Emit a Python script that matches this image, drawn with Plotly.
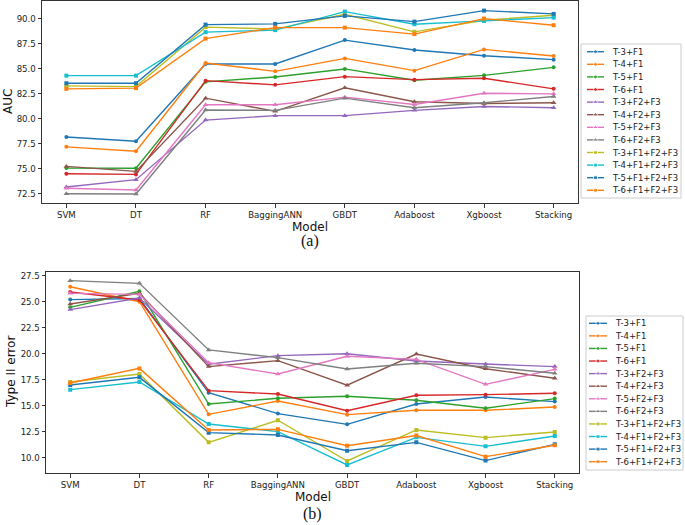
import plotly.graph_objects as go

models = ["SVM", "DT", "RF", "BaggingANN", "GBDT", "Adaboost", "Xgboost", "Stacking"]
series_names = ["T-3+F1", "T-4+F1", "T-5+F1", "T-6+F1",
                "T-3+F2+F3", "T-4+F2+F3", "T-5+F2+F3", "T-6+F2+F3",
                "T-3+F1+F2+F3", "T-4+F1+F2+F3", "T-5+F1+F2+F3", "T-6+F1+F2+F3"]

auc_t3_f1 = [78.17, 77.74, 85.47, 85.47, 87.85, 86.86, 86.29, 85.90]
auc_t4_f1 = [77.18, 76.75, 85.56, 84.73, 86.02, 84.80, 86.92, 86.26]
auc_t5_f1 = [75.06, 75.04, 83.68, 84.17, 84.97, 83.84, 84.33, 85.13]
auc_t6_f1 = [74.50, 74.43, 83.80, 83.38, 84.20, 83.90, 84.04, 82.98]
auc_t3_f23 = [73.17, 73.90, 79.86, 80.30, 80.30, 80.83, 81.22, 81.09]
auc_t4_f23 = [75.23, 74.73, 82.05, 80.73, 83.08, 81.69, 81.52, 81.59]
auc_t5_f23 = [73.04, 72.87, 81.39, 81.39, 82.15, 81.42, 82.54, 82.48]
auc_t6_f23 = [72.50, 72.47, 80.86, 80.83, 82.05, 81.09, 81.59, 82.22]
auc_t3_f123 = [83.28, 83.20, 89.15, 88.95, 90.44, 88.68, 89.84, 90.34]
auc_t4_f123 = [84.30, 84.30, 88.65, 88.85, 90.70, 89.44, 89.77, 90.10]
auc_t5_f123 = [83.54, 83.54, 89.40, 89.47, 90.27, 89.70, 90.80, 90.47]
auc_t6_f123 = [82.98, 83.05, 88.00, 89.10, 89.10, 88.45, 90.00, 89.34]

err_t3_f1 = [25.20, 25.30, 16.27, 14.26, 13.23, 15.18, 15.86, 15.41]
err_t4_f1 = [26.44, 25.00, 14.19, 15.47, 14.16, 14.58, 14.58, 14.90]
err_t5_f1 = [24.46, 26.00, 15.18, 15.73, 15.92, 15.54, 14.77, 15.70]
err_t6_f1 = [25.93, 25.17, 16.46, 16.14, 14.54, 16.02, 16.08, 16.21]
err_t3_f23 = [24.24, 25.35, 19.00, 19.82, 20.00, 19.31, 19.02, 18.77]
err_t4_f23 = [24.78, 25.80, 18.77, 19.34, 16.98, 19.98, 18.57, 17.65]
err_t5_f23 = [25.80, 25.70, 19.15, 18.06, 19.76, 19.47, 17.07, 18.51]
err_t6_f23 = [27.02, 26.76, 20.37, 19.63, 18.54, 19.09, 18.77, 18.13]
err_t3_f123 = [17.30, 18.06, 11.50, 13.62, 9.71, 12.69, 11.95, 12.50]
err_t4_f123 = [16.56, 17.30, 13.26, 12.53, 9.33, 11.98, 11.12, 12.11]
err_t5_f123 = [17.00, 17.74, 12.43, 12.21, 10.70, 11.50, 9.75, 11.31]
err_t6_f123 = [17.20, 18.60, 12.69, 12.75, 11.18, 12.15, 10.13, 11.22]

auc_series = [auc_t3_f1, auc_t4_f1, auc_t5_f1, auc_t6_f1,
              auc_t3_f23, auc_t4_f23, auc_t5_f23, auc_t6_f23,
              auc_t3_f123, auc_t4_f123, auc_t5_f123, auc_t6_f123]
err_series = [err_t3_f1, err_t4_f1, err_t5_f1, err_t6_f1,
              err_t3_f23, err_t4_f23, err_t5_f23, err_t6_f23,
              err_t3_f123, err_t4_f123, err_t5_f123, err_t6_f123]

auc_ticks = [72.5, 75.0, 77.5, 80.0, 82.5, 85.0, 87.5, 90.0]
err_ticks = [10.0, 12.5, 15.0, 17.5, 20.0, 22.5, 25.0, 27.5]

tab10 = ["#1f77b4", "#ff7f0e", "#2ca02c", "#d62728", "#9467bd",
         "#8c564b", "#e377c2", "#7f7f7f", "#bcbd22", "#17becf"]
symbols = ["circle"] * 4 + ["triangle-up"] * 4 + ["square"] * 4
msizes = [4] * 4 + [5] * 4 + [4] * 4

W, H = 685, 525
FONT = "DejaVu Sans"
AX = "#333333"

fig = go.Figure()

for i, name in enumerate(series_names):
    c = tab10[i % 10]
    fig.add_trace(go.Scatter(x=models, y=auc_series[i], name=name, mode="lines+markers",
                             line=dict(color=c, width=1.4),
                             marker=dict(symbol=symbols[i], size=msizes[i], color=c),
                             xaxis="x", yaxis="y", showlegend=False))
for i, name in enumerate(series_names):
    c = tab10[i % 10]
    fig.add_trace(go.Scatter(x=models, y=err_series[i], name=name, mode="lines+markers",
                             line=dict(color=c, width=1.4),
                             marker=dict(symbol=symbols[i], size=msizes[i], color=c),
                             xaxis="x2", yaxis="y2", showlegend=False))

# compact matplotlib-like legends drawn on an overlay pixel axis
def add_legend(box, x0, x1, xt, y_first, dy):
    bx0, by0, bx1, by1 = box
    fig.add_shape(type="rect", xref="x3", yref="y3", x0=bx0, y0=by0, x1=bx1, y1=by1,
                  line=dict(color="#cccccc", width=1), fillcolor="white", layer="below")
    for i, name in enumerate(series_names):
        c = tab10[i % 10]
        yy = y_first + dy * i
        fig.add_trace(go.Scatter(x=[x0, (x0 + x1) / 2, x1], y=[yy] * 3, mode="lines+markers",
                                 line=dict(color=c, width=1.4),
                                 marker=dict(symbol=symbols[i], size=[0, msizes[i], 0], color=c),
                                 xaxis="x3", yaxis="y3", showlegend=False, hoverinfo="skip"))
        fig.add_annotation(x=xt, y=yy, xref="x3", yref="y3", text=name, showarrow=False,
                           xanchor="left", yanchor="middle",
                           font=dict(family=FONT, size=8.5, color="#222"))

add_legend((581, 44, 681, 198), 587, 604, 610, 51.7, 12.6)
add_legend((586, 316, 683, 470), 589, 607, 612.5, 323.3, 12.58)

axis_common = dict(showline=True, mirror=True, linecolor=AX, linewidth=1,
                   ticks="outside", ticklen=3.5, tickcolor=AX, tickwidth=1,
                   showgrid=False, zeroline=False,
                   tickfont=dict(family=FONT, size=8.6, color="#222"))

fig.update_layout(
    width=W, height=H,
    margin=dict(l=0, r=0, t=0, b=0),
    paper_bgcolor="white", plot_bgcolor="rgba(0,0,0,0)",
    showlegend=False,
    xaxis=dict(domain=[42 / W, 578 / W], anchor="y", type="category",
               categoryorder="array", categoryarray=models,
               range=[-0.35, 7.35], **axis_common),
    yaxis=dict(domain=[1 - 203 / H, 1 - 1 / H], anchor="x",
               range=[71.57, 91.76], tickvals=auc_ticks,
               ticktext=[f"{v:.1f}" for v in auc_ticks], **axis_common),
    xaxis2=dict(domain=[46 / W, 579 / W], anchor="y2", type="category",
                categoryorder="array", categoryarray=models,
                range=[-0.35, 7.35], **axis_common),
    yaxis2=dict(domain=[1 - 473.3 / H, 1 - 271.7 / H], anchor="x2",
                range=[8.53, 27.88], tickvals=err_ticks,
                ticktext=[f"{v:.1f}" for v in err_ticks], **axis_common),
    xaxis3=dict(domain=[0, 1], anchor="y3", range=[0, W], visible=False, fixedrange=True),
    yaxis3=dict(domain=[0, 1], anchor="x3", range=[H, 0], visible=False, fixedrange=True),
)

def pap(px, py):
    return px / W, 1 - py / H

labels = [
    ("Model", 310, 226.5, 12, FONT, 0),
    ("(a)", 310, 241.5, 16, "Liberation Serif", 0),
    ("Model", 312.5, 497, 12, FONT, 0),
    ("(b)", 312.5, 513.5, 16, "Liberation Serif", 0),
    ("AUC", 8, 101, 12, FONT, -90),
    ("Type II error", 11, 372, 12, FONT, -90),
]
for txt, px, py, fs, fam, ang in labels:
    x, y = pap(px, py)
    fig.add_annotation(x=x, y=y, xref="paper", yref="paper", text=txt, showarrow=False,
                       xanchor="center", yanchor="middle", textangle=ang,
                       font=dict(family=fam, size=fs, color="#111"))

fig.write_html("out.html", config={"displayModeBar": False},
               post_script="document.body.style.margin='0';document.body.style.overflow='hidden';")
